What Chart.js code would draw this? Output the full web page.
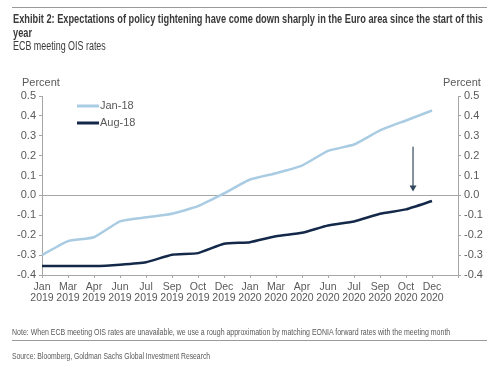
<!DOCTYPE html>
<html>
<head>
<meta charset="utf-8">
<script src="https://cdn.jsdelivr.net/npm/chart.js@4/dist/chart.umd.min.js"></script>
<style>
  html, body { margin: 0; padding: 0; background: #fff; }
  #wrap { position: relative; width: 500px; height: 366px; overflow: hidden; font-family: 'Liberation Sans', Arial, sans-serif; }
  #wrap canvas { position: absolute; left: 0; top: 0; }
  .txt { position: absolute; white-space: nowrap; transform-origin: 0 50%; }
  .rule { position: absolute; left: 12px; width: 475px; height: 1px; background: #9a9a9a; }
</style>
</head>
<body>
<div id="wrap">
  <canvas id="chartOis" width="500" height="366"></canvas>
  <div class="rule" style="top:7px"></div>
  <div class="txt fit" data-w="470" data-group="t" style="left:13px;top:11px;font-size:13px;font-weight:bold;color:#3a3a3a;">Exhibit 2: Expectations of policy tightening have come down sharply in the Euro area since the start of this</div>
  <div class="txt fit" data-group="t" style="left:13px;top:25px;font-size:13px;font-weight:bold;color:#3a3a3a;">year</div>
  <div class="txt fit" data-w="93" style="left:13px;top:39px;font-size:12px;color:#3a3a3a;">ECB meeting OIS rates</div>
  <div class="txt" style="left:22px;top:76px;font-size:11px;color:#595959;">Percent</div>
  <div class="txt" style="left:443px;top:76px;font-size:11px;color:#595959;">Percent</div>
  <div class="txt fit" data-w="438" style="left:12px;top:327px;font-size:9px;color:#595959;">Note: When ECB meeting OIS rates are unavailable, we use a rough approximation by matching EONIA forward rates with the meeting month</div>
  <div class="rule" style="top:340px"></div>
  <div class="txt fit" data-w="198" style="left:12px;top:351px;font-size:9px;color:#595959;">Source: Bloomberg, Goldman Sachs Global Investment Research</div>
</div>
<script>
// ECB meeting months (last slot is an empty step to the right axis)
const months = ['Jan', 'Mar', 'Apr', 'Jun', 'Jul', 'Sep', 'Oct', 'Dec', 'Jan', 'Mar', 'Apr', 'Jun', 'Jul', 'Sep', 'Oct', 'Dec', ''];
const years = ['2019', '2019', '2019', '2019', '2019', '2019', '2019', '2019', '2020', '2020', '2020', '2020', '2020', '2020', '2020', '2020', ''];

const jan18 = [-0.30, -0.23, -0.21, -0.13, -0.11, -0.092, -0.054, 0.01, 0.08, 0.112, 0.15, 0.224, 0.256, 0.327, 0.377, 0.427, null];
const aug18 = [-0.355, -0.355, -0.355, -0.348, -0.336, -0.298, -0.29, -0.243, -0.235, -0.205, -0.188, -0.151, -0.131, -0.092, -0.07, -0.028, null];

const yTicks = [-0.4, -0.3, -0.2, -0.1, 0.0, 0.1, 0.2, 0.3, 0.4, 0.5];

const axisGrey = '#a6a6a6';
const textGrey = '#595959';

// squeeze the header/footer text to the narrow look of the original
const groupScale = {};
document.querySelectorAll('.fit').forEach(el => {
  const g = el.dataset.group;
  let k;
  if (el.dataset.w) {
    k = Number(el.dataset.w) / el.offsetWidth;
    if (g) groupScale[g] = k;
  } else {
    k = groupScale[g] || 1;
  }
  el.style.transform = 'scaleX(' + k + ')';
});

const labels = months.map((m, i) => m ? [m, years[i]] : '');

// legend inside the plot, top-left
const legendInside = {
  id: 'legendInside',
  afterDraw(chart) {
    const ctx = chart.ctx;
    const a = chart.chartArea;
    ctx.save();
    ctx.font = '11px "Liberation Sans", Arial, sans-serif';
    ctx.textBaseline = 'middle';
    chart.data.datasets.forEach((ds, i) => {
      const y = a.top + 10 + i * 17;
      ctx.strokeStyle = ds.borderColor;
      ctx.lineWidth = 3;
      ctx.beginPath();
      ctx.moveTo(a.left + 35, y);
      ctx.lineTo(a.left + 57, y);
      ctx.stroke();
      ctx.fillStyle = textGrey;
      ctx.fillText(ds.label, a.left + 58, y);
    });
    ctx.restore();
  }
};

// arrow marking the drop near end-2020
const arrow = {
  id: 'arrow',
  afterDatasetsDraw(chart) {
    const ctx = chart.ctx;
    const x = chart.scales.x.getPixelForValue(14.27);
    const y1 = chart.scales.y.getPixelForValue(0.245);
    const y2 = chart.scales.y.getPixelForValue(0.02);
    ctx.save();
    ctx.strokeStyle = '#33475e';
    ctx.fillStyle = '#33475e';
    ctx.lineWidth = 1.2;
    ctx.beginPath();
    ctx.moveTo(x, y1);
    ctx.lineTo(x, y2 - 5);
    ctx.stroke();
    ctx.beginPath();
    ctx.moveTo(x - 3.5, y2 - 6);
    ctx.lineTo(x + 3.5, y2 - 6);
    ctx.lineTo(x, y2);
    ctx.closePath();
    ctx.fill();
    ctx.restore();
  }
};

const yScale = (pos) => ({
  position: pos,
  min: -0.4,
  max: 0.5,
  afterBuildTicks: (s) => { s.ticks = yTicks.map(v => ({ value: v })); },
  afterFit: (s) => { s.width = 42; },
  border: { display: true, color: axisGrey },
  grid: {
    display: true,
    drawOnChartArea: pos === 'left',
    color: (c) => c.tick && Math.abs(c.tick.value) < 1e-9 ? axisGrey : 'transparent',
    tickColor: axisGrey,
    tickLength: 3
  },
  ticks: {
    color: textGrey,
    font: { family: '"Liberation Sans", Arial, sans-serif', size: 11 },
    padding: 3,
    callback: (v) => Number(v).toFixed(1)
  }
});

const ctx = document.getElementById('chartOis').getContext('2d');
new Chart(ctx, {
  type: 'line',
  data: {
    labels: labels,
    datasets: [{
      label: 'Jan-18',
      data: jan18,
      borderColor: '#a9cce3',
      borderWidth: 2.5,
      pointRadius: 0,
      tension: 0.15,
      yAxisID: 'y'
    }, {
      label: 'Aug-18',
      data: aug18,
      borderColor: '#14294a',
      borderWidth: 2.5,
      pointRadius: 0,
      tension: 0.15,
      yAxisID: 'y'
    }]
  },
  options: {
    responsive: false,
    animation: false,
    layout: { padding: { top: 96, left: 0, right: 0, bottom: 0 } },
    plugins: { legend: { display: false }, tooltip: { enabled: false } },
    scales: {
      x: {
        offset: false,
        afterFit: (s) => { s.height = 91; },
        border: { display: true, color: axisGrey },
        grid: { display: true, drawOnChartArea: false, tickColor: axisGrey, tickLength: 3 },
        ticks: {
          color: textGrey,
          autoSkip: false,
          maxRotation: 0,
          padding: 4,
          font: { family: '"Liberation Sans", Arial, sans-serif', size: 10.5, lineHeight: 1.05 }
        }
      },
      y: yScale('left'),
      y2: yScale('right')
    }
  },
  plugins: [legendInside, arrow]
});
</script>
</body>
</html>
